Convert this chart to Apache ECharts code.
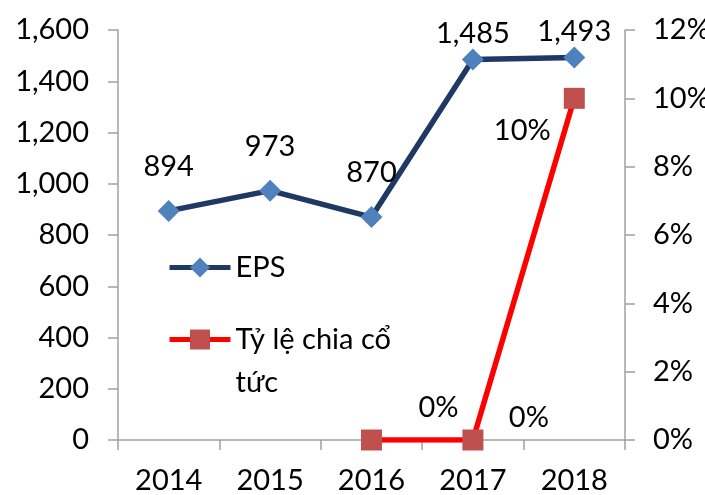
<!DOCTYPE html>
<html>
<head>
<meta charset="utf-8">
<script src="https://cdn.jsdelivr.net/npm/echarts@6/dist/echarts.min.js"></script>
<style>html,body{margin:0;padding:0;background:#fff}#c{width:705px;height:495px}</style>
</head>
<body>
<div id="c"></div>
<script>
const categories = ['2014', '2015', '2016', '2017', '2018'];
const epsValues = [894, 973, 870, 1485, 1493];
const dividendValues = [null, null, 0, 0, 10];
const epsName = 'EPS';
const dividendName = 'Tỷ lệ chia cổ tức';

// label placement styling (kept separate from data)
const epsLabelDistance = [19, 19, 19, 0, 0];
const divLabelOffset = [[0, 0], [0, 0], [67, -32], [56, -22], [-52, 32]];

const FONT = 'Lato';
const FS = 29;
const axisGray = '#a0a0a0';

const chart = echarts.init(document.getElementById('c'), null, {renderer: 'canvas'});
const option = {
  animation: false,
  textStyle: {fontFamily: FONT},
  grid: {left: 118, right: 80, top: 30, bottom: 55, containLabel: false, outerBoundsMode: 'none'},
  legend: [
    {
      data: [epsName],
      left: 167, top: 253,
      orient: 'vertical',
      itemWidth: 61, itemHeight: 25, itemGap: 5,
      padding: 0,
      lineStyle: {width: 5},
      textStyle: {fontSize: FS, color: '#000', fontFamily: FONT}
    },
    {
      data: [dividendName],
      left: 167, top: 275,
      orient: 'vertical',
      itemWidth: 61, itemHeight: 25, itemGap: 5,
      padding: 0,
      lineStyle: {width: 5},
      formatter: function (n) { return '\nTỷ lệ chia cổ\ntức'; },
      textStyle: {fontSize: FS, color: '#000', fontFamily: FONT, lineHeight: 43}
    }
  ],
  xAxis: {
    type: 'category',
    data: categories,
    axisLine: {lineStyle: {color: axisGray, width: 1.5}},
    axisTick: {show: true, interval: 0, length: 10, lineStyle: {color: axisGray, width: 1.5}},
    axisLabel: {fontSize: FS, color: '#000', margin: 26, fontFamily: FONT}
  },
  yAxis: [
    {
      type: 'value', min: 0, max: 1600, interval: 200, position: 'left',
      axisLine: {show: true, lineStyle: {color: axisGray, width: 1.5}},
      axisTick: {show: true, length: 10, lineStyle: {color: axisGray, width: 1.5}},
      splitLine: {show: false},
      axisLabel: {
        fontSize: FS, color: '#000', margin: 29, fontFamily: FONT,
        formatter: function (v) { return v.toLocaleString('en-US'); }
      }
    },
    {
      type: 'value', min: 0, max: 12, interval: 2, position: 'right',
      axisLine: {show: true, lineStyle: {color: axisGray, width: 1.5}},
      axisTick: {show: true, length: 10, lineStyle: {color: axisGray, width: 1.5}},
      splitLine: {show: false},
      axisLabel: {fontSize: FS, color: '#000', margin: 28, fontFamily: FONT, formatter: '{value}%'}
    }
  ],
  series: [
    {
      name: epsName,
      type: 'line',
      yAxisIndex: 0,
      data: epsValues.map(function (v, i) {
        return {value: v, label: {distance: epsLabelDistance[i]}};
      }),
      symbol: 'diamond',
      symbolSize: 22,
      lineStyle: {color: '#1F3864', width: 5.5},
      itemStyle: {color: '#4F81BD'},
      label: {
        show: true, position: 'top', fontSize: FS, color: '#000', fontFamily: FONT,
        formatter: function (p) { return p.value.toLocaleString('en-US'); }
      },
      z: 3
    },
    {
      name: dividendName,
      type: 'line',
      yAxisIndex: 1,
      data: dividendValues.map(function (v, i) {
        return {value: v, label: {offset: divLabelOffset[i]}};
      }),
      symbol: 'rect',
      symbolSize: 21,
      lineStyle: {color: '#FF0000', width: 5.5},
      itemStyle: {color: '#C0504D'},
      label: {
        show: true, position: 'inside', fontSize: FS, color: '#000', fontFamily: FONT,
        formatter: function (p) { return p.value + '%'; }
      },
      z: 2
    }
  ]
};
chart.setOption(option);
</script>
</body>
</html>
